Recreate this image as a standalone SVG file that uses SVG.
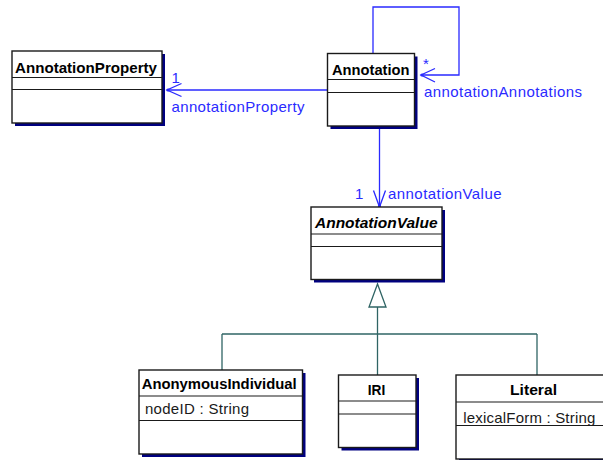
<svg xmlns="http://www.w3.org/2000/svg" width="603" height="460" viewBox="0 0 603 460">
  <style>
    .box { fill: #ffffff; stroke: #1a1a1a; stroke-width: 1.4; }
    .shadow { fill: #000080; stroke: none; }
    .sep { stroke: #1a1a1a; stroke-width: 1.2; fill: none; }
    .title { font-family: "Liberation Sans", Arial, sans-serif; font-size: 15px; font-weight: bold; fill: #000000; }
    .attr { font-family: "Liberation Sans", Arial, sans-serif; font-size: 15px; fill: #1a1a1a; }
    .assoc { stroke: #2a2aff; stroke-width: 1.3; fill: none; }
    .lbl { font-family: "Liberation Sans", Arial, sans-serif; font-size: 15px; fill: #2a2aff; }
    .gen { stroke: #2f6464; stroke-width: 1.3; fill: none; }
    .genhead { stroke: #2f6464; stroke-width: 1.3; fill: #ffffff; }
    .dot { fill: #2a2aff; }
  </style>

  <g id="connectors">
    <!-- annotationProperty association -->
    <line class="assoc" x1="327.5" y1="90" x2="167" y2="90"/>
    <polyline class="assoc" points="181.5,83.5 167,90 181.5,96.5"/>
    <circle class="dot" cx="168" cy="90" r="1.6"/>
    <text class="lbl" x="171.5" y="83" >1</text>
    <text class="lbl" x="171.5" y="111.5" textLength="133" lengthAdjust="spacing">annotationProperty</text>

    <!-- annotationAnnotations self association -->
    <polyline class="assoc" points="373,53.5 373,7 459,7 459,75 421,75"/>
    <polyline class="assoc" points="435,68.5 421,75 435,82"/>
    <circle class="dot" cx="422" cy="75" r="1.6"/>
    <text class="lbl" x="423" y="69">*</text>
    <text class="lbl" x="424" y="96.5" textLength="158" lengthAdjust="spacing">annotationAnnotations</text>

    <!-- annotationValue association -->
    <line class="assoc" x1="379.5" y1="126" x2="379.5" y2="207"/>
    <polyline class="assoc" points="373.5,190.5 379.5,207 385.5,190.5"/>
    <circle class="dot" cx="379.5" cy="206" r="1.6"/>
    <text class="lbl" x="355" y="198.5">1</text>
    <text class="lbl" x="388" y="198.5" textLength="113.5" lengthAdjust="spacing">annotationValue</text>

    <!-- generalization -->
    <line class="gen" x1="377.5" y1="307" x2="377.5" y2="334"/>
    <line class="gen" x1="222" y1="334" x2="537" y2="334"/>
    <line class="gen" x1="222" y1="334" x2="222" y2="370"/>
    <line class="gen" x1="377.5" y1="334" x2="377.5" y2="375"/>
    <line class="gen" x1="537" y1="334" x2="537" y2="375"/>
    <polygon class="genhead" points="377.5,284 369,307 386,307"/>
  </g>

  <g id="AnnotationProperty">
    <rect class="shadow" x="15" y="54" width="150" height="72"/>
    <rect class="box" x="12" y="51" width="150" height="72"/>
    <line class="sep" x1="12" y1="77.5" x2="162" y2="77.5"/>
    <line class="sep" x1="12" y1="89.5" x2="162" y2="89.5"/>
    <text class="title" x="15" y="73.3" textLength="142" lengthAdjust="spacingAndGlyphs">AnnotationProperty</text>
  </g>

  <g id="Annotation">
    <rect class="shadow" x="330.5" y="56.5" width="87" height="72.5"/>
    <rect class="box" x="327.5" y="53.5" width="87" height="72.5"/>
    <line class="sep" x1="327.5" y1="79.5" x2="414.5" y2="79.5"/>
    <line class="sep" x1="327.5" y1="92.5" x2="414.5" y2="92.5"/>
    <text class="title" x="332" y="75" textLength="77.5" lengthAdjust="spacingAndGlyphs">Annotation</text>
  </g>

  <g id="AnnotationValue">
    <rect class="shadow" x="314" y="210" width="131" height="72.5"/>
    <rect class="box" x="311" y="207" width="131" height="72.5"/>
    <line class="sep" x1="311" y1="234" x2="442" y2="234"/>
    <line class="sep" x1="311" y1="246.5" x2="442" y2="246.5"/>
    <text class="title" x="315" y="228" font-style="italic" textLength="122.5" lengthAdjust="spacingAndGlyphs">AnnotationValue</text>
  </g>

  <g id="AnonymousIndividual">
    <rect class="shadow" x="142" y="373" width="163.5" height="84"/>
    <rect class="box" x="139" y="370" width="163.5" height="84"/>
    <line class="sep" x1="139" y1="396" x2="302.5" y2="396"/>
    <line class="sep" x1="139" y1="420.5" x2="302.5" y2="420.5"/>
    <text class="title" x="141.7" y="389" textLength="155" lengthAdjust="spacingAndGlyphs">AnonymousIndividual</text>
    <text class="attr" x="145" y="414" textLength="104" lengthAdjust="spacing">nodeID : String</text>
  </g>

  <g id="IRI">
    <rect class="shadow" x="341.5" y="378" width="77.5" height="72.5"/>
    <rect class="box" x="338.5" y="375" width="77.5" height="72.5"/>
    <line class="sep" x1="338.5" y1="401" x2="416" y2="401"/>
    <line class="sep" x1="338.5" y1="414" x2="416" y2="414"/>
    <text class="title" x="367.7" y="395" textLength="17.5" lengthAdjust="spacingAndGlyphs">IRI</text>
  </g>

  <g id="Literal">
    <rect class="shadow" x="459" y="378" width="160" height="84"/>
    <rect class="box" x="456" y="375" width="160" height="84"/>
    <line class="sep" x1="456" y1="402" x2="616" y2="402"/>
    <line class="sep" x1="456" y1="425.5" x2="616" y2="425.5"/>
    <text class="title" x="510" y="395" textLength="47" lengthAdjust="spacingAndGlyphs">Literal</text>
    <text class="attr" x="463.3" y="423" textLength="132" lengthAdjust="spacing">lexicalForm : String</text>
  </g>
</svg>
